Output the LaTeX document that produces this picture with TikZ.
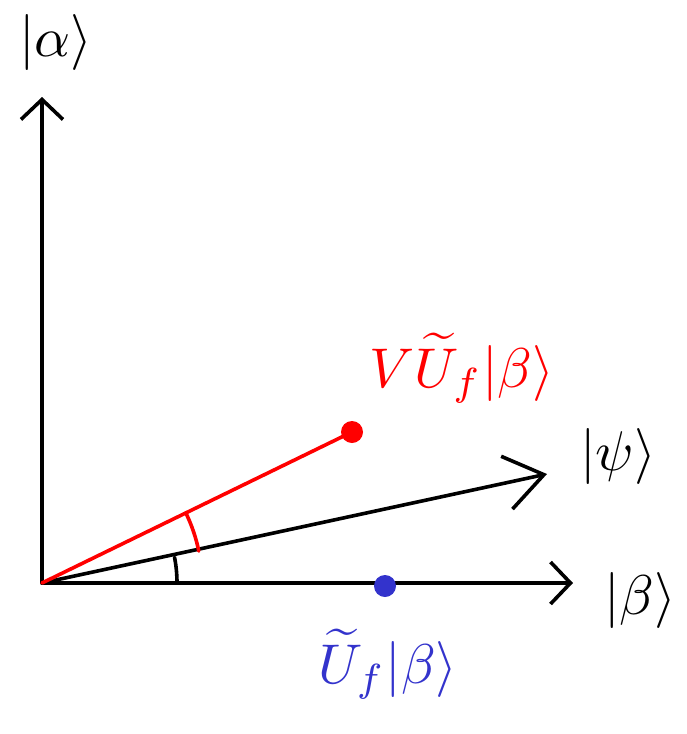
\documentclass[tikz,border=0pt]{standalone}
\usetikzlibrary{arrows.meta}
\definecolor{myred}{RGB}{255,0,0}
\definecolor{myblue}{RGB}{51,51,204}
\begin{document}
\begin{tikzpicture}[x=1pt,y=-1pt,
  axis/.style={line width=3.6pt,line cap=round,line join=round},
  barb/.style={-{Straight Barb[length=20pt,width=42pt,line width=3.6pt]}},
  bigbarb/.style={-{Straight Barb[length=38pt,width=54pt,line width=3.6pt]}},
  lbl/.style={inner sep=0pt,scale=5.6}]
\useasboundingbox (0,0) rectangle (687,734);
\coordinate (O) at (42,583);
\coordinate (A) at (42,97);
\coordinate (B) at (573,583);
\coordinate (P) at (547,474);
\coordinate (R) at (352,432);
\coordinate (Bl) at (385,586);
\draw[axis,barb] (O) -- (A);
\draw[axis,barb] (O) -- (B);
\draw[axis,bigbarb] (O) -- (P);
\draw[axis,myred] (O) -- (R);
\fill[myred] (R) circle (11);
\fill[myblue] (Bl) circle (11);
% angle arcs
\draw[axis] (O) ++(0:135) arc[start angle=0,end angle=-11,radius=135];
\draw[axis,myred] (O) ++(-11.5:160) arc[start angle=-11.5,end angle=-26,radius=160];
\node[lbl] (la) at (56,42) {$|\alpha\rangle$};
\node[lbl] (lb) at (640,600) {$|\beta\rangle$};
\node[lbl] (lp) at (618,456) {$|\psi\rangle$};
\node[lbl,text=myred] (lr) at (462,368) {$V\widetilde{U}_f|\beta\rangle$};
\node[lbl,text=myblue] (lbl2) at (388,664) {$\widetilde{U}_f|\beta\rangle$};
\end{tikzpicture}
\end{document}
